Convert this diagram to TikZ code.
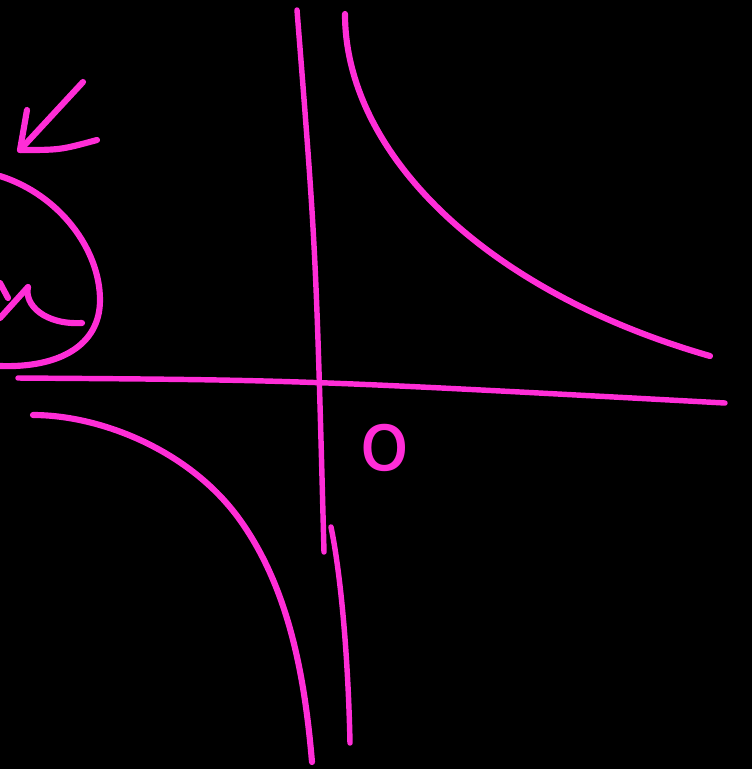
\documentclass[tikz,border=0pt]{standalone}
\usepackage{fontspec}
\usepackage{xcolor}
\usetikzlibrary{positioning}
\definecolor{chalk}{RGB}{255,45,215}
\newfontfamily\handfont{DejaVu Sans}
\tikzstyle{pen}   = [draw=chalk, line width=3.5pt, line cap=round, line join=round]
\tikzstyle{axis}  = [draw=chalk, line width=3.1pt, line cap=round]
\tikzstyle{label} = [text=chalk, inner sep=0pt, font=\handfont\fontsize{47}{47}\selectfont]

\begin{document}
\begin{tikzpicture}[x=0.02cm, y=-0.02cm]
    \fill[black] (0,0) rectangle (752,769);
    \useasboundingbox (0,0) rectangle (752,769);

    % axes
    \draw[axis] (18,378) .. controls (300,380) .. (725,403);
    \draw[axis] (297,10) .. controls (316,250) .. (324,552);
    \draw[axis] (331,527) .. controls (340,570) and (348,650) .. (350,743);

    % the two branches
    \draw[pen] (345,14) .. controls (345,150) and (480,290) .. (710,356);
    \draw[pen] (33,415) .. controls (100,415) and (190,450) .. (240,520)
               .. controls (290,590) and (305,680) .. (312,762);

    \node (origin) [label] at (385,448) {o};

    % note at the left edge
    \coordinate (tip) at (20,150);
    \draw[pen] (83,82) -- (tip);
    \draw[pen] (27,110) -- (tip) .. controls (60,150) .. (97,140);
    \draw[pen] (0,176) .. controls (60,195) and (100,250) .. (100,300)
               .. controls (100,345) and (60,368) .. (0,366);
    \draw[pen] (0,318) -- (28,287) .. controls (24,305) and (45,325) .. (82,323);
    \draw[pen] (0,283) -- (8,298);
\end{tikzpicture}
\end{document}
